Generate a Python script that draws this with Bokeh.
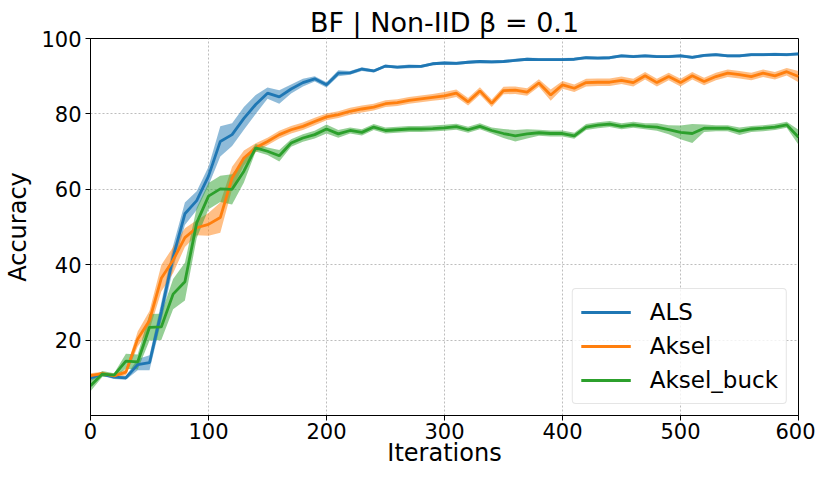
import numpy as np
from bokeh.plotting import figure
from bokeh.models import Range1d, FixedTicker, Legend, LegendItem
from bokeh.embed import file_html
from bokeh.resources import INLINE

iterations = list(range(0, 601, 10))

als_mean = [10.0, 11.0, 10.2, 10.0, 13.5, 14.0, 27.5, 42.0, 53.5, 57.0,
            63.5, 72.7, 74.5, 78.8, 82.5, 85.5, 84.5, 86.6, 88.3, 89.3,
            87.7, 90.8, 90.9, 91.9, 91.4, 92.7, 92.4, 92.6, 92.6, 93.3,
            93.5, 93.4, 93.7, 93.9, 93.8, 93.9, 94.2, 94.5, 94.4, 94.4,
            94.4, 94.5, 94.9, 94.8, 94.9, 95.4, 95.2, 95.4, 95.2, 95.2,
            95.4, 95.0, 95.5, 95.7, 95.4, 95.4, 95.7, 95.7, 95.8, 95.7, 95.9]
als_std = [0.8, 0.5, 0.5, 0.5, 1.5, 2.0, 2.5, 3.0, 3.0, 2.5,
           2.5, 4.0, 3.0, 3.0, 2.5, 1.5, 1.8, 1.2, 1.0, 0.7,
           0.7, 0.8, 0.5, 0.5, 0.4, 0.4, 0.4, 0.5, 0.4, 0.4,
           0.4, 0.4, 0.4, 0.4, 0.4, 0.4, 0.4, 0.4, 0.4, 0.4,
           0.4, 0.4, 0.4, 0.4, 0.4, 0.4, 0.4, 0.4, 0.4, 0.4,
           0.4, 0.4, 0.4, 0.4, 0.4, 0.4, 0.4, 0.4, 0.4, 0.4, 0.4]

aksel_mean = [10.6, 11.1, 10.5, 11.5, 20.3, 25.2, 36.4, 41.2, 47.2, 49.8,
              50.7, 52.5, 63.0, 68.3, 71.0, 72.7, 74.5, 75.8, 76.7, 78.0,
              79.2, 79.8, 80.7, 81.3, 81.8, 82.7, 83.0, 83.6, 84.0, 84.4,
              84.8, 85.5, 83.2, 86.1, 82.8, 86.2, 86.3, 85.8, 88.2, 85.0,
              87.7, 86.8, 88.3, 88.4, 88.4, 88.9, 88.3, 90.1, 88.3, 89.9,
              88.3, 90.1, 88.6, 89.9, 90.8, 90.4, 89.9, 90.8, 90.1, 91.2, 89.9]
aksel_std = [0.6, 0.5, 0.5, 0.8, 2.0, 2.5, 3.5, 3.5, 2.5, 2.0,
             3.0, 4.0, 3.0, 2.0, 1.2, 1.0, 1.0, 1.0, 1.0, 1.0,
             0.9, 0.9, 0.9, 0.9, 0.9, 0.9, 0.9, 0.9, 0.9, 0.9,
             1.0, 1.0, 1.0, 1.0, 1.0, 1.0, 1.0, 1.0, 1.0, 1.5,
             1.0, 1.0, 1.0, 1.0, 1.0, 1.0, 1.0, 1.0, 1.0, 1.0,
             1.0, 1.0, 1.0, 1.0, 1.0, 1.0, 1.0, 1.0, 1.0, 1.0, 1.5]

buck_mean = [7.9, 11.0, 10.7, 14.4, 14.2, 23.4, 23.5, 32.2, 35.5, 51.1,
             58.2, 60.1, 60.0, 64.8, 71.0, 70.1, 68.9, 72.3, 73.6, 74.5,
             76.0, 74.7, 75.6, 75.1, 76.5, 75.6, 75.8, 76.0, 76.0, 76.1,
             76.3, 76.6, 75.8, 76.7, 75.6, 74.8, 74.2, 74.7, 75.0, 74.8,
             74.8, 74.2, 76.5, 77.0, 77.3, 76.7, 77.1, 76.7, 76.5, 75.8,
             75.1, 74.8, 76.2, 76.2, 76.2, 75.4, 76.0, 76.2, 76.5, 77.1, 73.8]
buck_std = [1.5, 0.8, 0.5, 2.0, 2.0, 3.5, 3.5, 4.0, 5.0, 4.0,
            3.5, 3.5, 4.0, 3.0, 1.0, 1.0, 1.5, 1.0, 1.0, 1.0,
            1.2, 1.0, 0.8, 0.8, 0.8, 0.8, 0.8, 0.8, 0.8, 0.8,
            0.8, 0.8, 0.8, 0.8, 0.8, 1.2, 1.5, 1.2, 0.8, 0.8,
            0.8, 0.8, 0.8, 0.8, 0.8, 0.8, 0.8, 0.8, 1.0, 1.2,
            1.8, 2.5, 1.0, 0.8, 0.8, 1.0, 0.8, 0.8, 0.8, 0.8, 2.0]

series_names = ["ALS", "Aksel", "Aksel_buck"]
series_colors = ["#1f77b4", "#ff7f0e", "#2ca02c"]
x_ticks = [0, 100, 200, 300, 400, 500, 600]
y_ticks = [20, 40, 60, 80, 100]

FONT = "DejaVu Sans"

p = figure(width=815, height=469, output_backend="svg", toolbar_location=None,
           x_range=Range1d(0, 600), y_range=Range1d(0, 100),
           min_border_left=90, min_border_right=17, min_border_top=38,
           min_border_bottom=50)

p.title.text = "BF | Non-IID \u03b2 = 0.1"
p.title.text_font = FONT
p.title.text_font_size = "27px"
p.title.text_font_style = "normal"
p.title.align = "center"
p.title.text_color = "black"
p.title.standoff = 1

p.outline_line_color = "black"
p.outline_line_width = 1
p.background_fill_color = "white"
p.border_fill_color = "white"

for ax in (p.xaxis[0], p.yaxis[0]):
    ax.axis_line_color = "black"
    ax.major_tick_line_color = "black"
    ax.major_tick_out = 5
    ax.major_tick_in = 0
    ax.minor_tick_line_color = None
    ax.major_label_text_font = FONT
    ax.major_label_text_font_size = "21px"
    ax.major_label_text_color = "black"
    ax.axis_label_text_font = FONT
    ax.axis_label_text_font_size = "24px"
    ax.axis_label_text_font_style = "normal"
    ax.axis_label_text_color = "black"
    ax.major_label_standoff = 4

p.xaxis.ticker = FixedTicker(ticks=x_ticks)
p.yaxis.ticker = FixedTicker(ticks=y_ticks)
p.xaxis.axis_label = "Iterations"
p.yaxis.axis_label = "Accuracy"
p.xaxis.axis_label_standoff = -3
p.xaxis.major_label_standoff = 2
p.yaxis.axis_label_standoff = 6

for g in (p.xgrid[0], p.ygrid[0]):
    g.grid_line_color = "#bdbdbd"
    g.grid_line_dash = "2 2"
    g.grid_line_width = 1

x = np.array(iterations)
data = [(als_mean, als_std), (aksel_mean, aksel_std), (buck_mean, buck_std)]
items = []
for (m, s), name, col in zip(data, series_names, series_colors):
    m = np.array(m)
    s = np.array(s)
    p.varea(x=x, y1=m - s, y2=m + s, fill_color=col, fill_alpha=0.5)
for (m, s), name, col in zip(data, series_names, series_colors):
    r = p.line(x=x, y=np.array(m), line_color=col, line_width=2.8)
    items.append(LegendItem(label=name, renderers=[r]))

legend = Legend(items=items, location="bottom_right")
legend.label_text_font = FONT
legend.label_text_font_size = "23px"
legend.label_text_color = "black"
legend.glyph_width = 50
legend.glyph_height = 30
legend.label_height = 30
legend.label_standoff = 19
legend.spacing = 4
legend.padding = 8
legend.margin = 11
legend.border_line_color = "#cccccc"
legend.border_line_width = 1
legend.border_radius = 4
legend.background_fill_alpha = 0.8
p.add_layout(legend)

open("out.html", "w").write(file_html(p, INLINE))
